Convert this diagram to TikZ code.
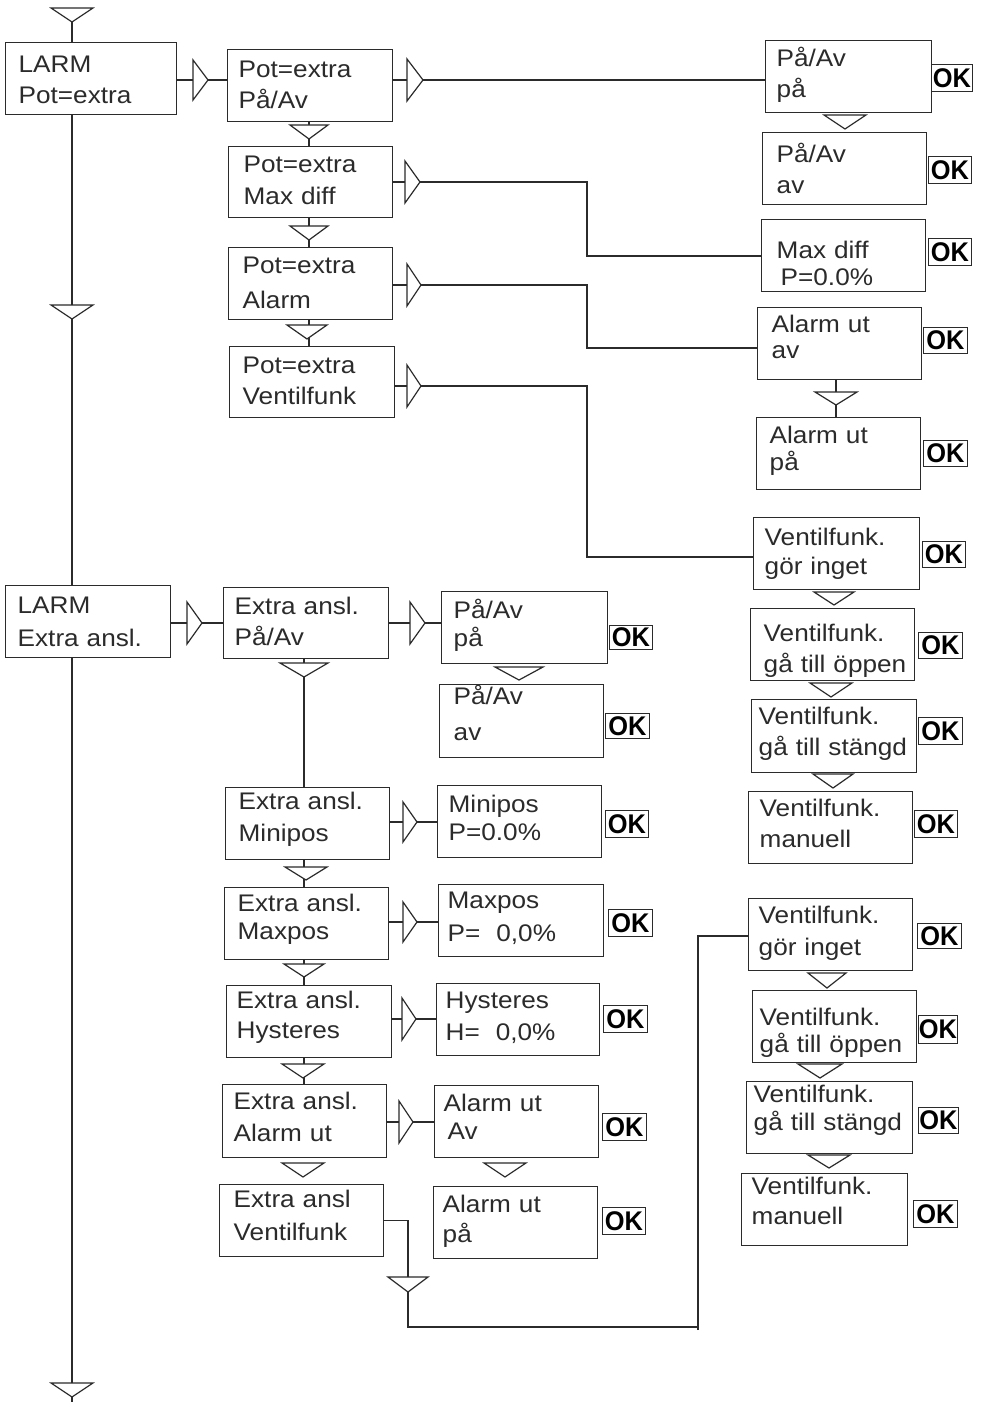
\documentclass[tikz,border=0pt]{standalone}
\usepackage{fontspec}
\setmainfont{Liberation Sans}[FakeStretch=1.09]
\newfontfamily\okfont{Liberation Sans}[FakeStretch=0.94]
\usetikzlibrary{calc}
\definecolor{ink}{HTML}{2B2B2B}
\tikzset{
  lcd/.style={draw=ink, line width=1.4pt, rectangle, anchor=north west, inner ysep=0pt,
    align=left, font={\fontsize{24}{31}\selectfont}, text=ink},
  okbox/.style={draw=ink, line width=1pt, rectangle, anchor=north west, inner sep=0pt,
    font={\okfont\bfseries\fontsize{27}{27}\selectfont}, text=black},
  wire/.style={draw=ink, line width=1.2pt},
  pics/dtri/.style n args={2}{code={\draw[wire,fill=white] (-#1,-#2) -- (#1,-#2) -- (0,0) -- cycle;}},
  pics/rtri/.style n args={2}{code={\draw[wire,fill=white] (-#1,-#2) -- (-#1,#2) -- (0,0) -- cycle;}},
}
% name, x,y (north west), width, height, inset, first baseline, line distance, line 1, line 2
\newcommand\lcdbox[9]{%
  \pgfmathsetmacro\lcdtw{#3-2*#5}%
  \node[lcd, minimum width=#3, minimum height=#4, text width=\lcdtw pt, inner xsep=#5] (#1) at (#2)
    {\rule{0pt}{#6pt}\rlap{#8}\\[\dimexpr#7pt-31pt\relax]\leavevmode\rule[-\dimexpr#4pt-#6pt-#7pt\relax]{0pt}{\dimexpr#4pt-#6pt-#7pt\relax}\rlap{#9}};}
\newcommand\okb[4]{\node[okbox, minimum width=#3, minimum height=#4] (#1) at (#2) {OK};}
\begin{document}
\begin{tikzpicture}[x=1pt, y=-1pt]
\fill[white] (0,0) rectangle (982,1402);
\useasboundingbox (0,0) rectangle (982,1402);

% ---------- boxes ----------
\lcdbox{A1}{5,42}{171}{72}{13}{30}{31}{LARM}{Pot=extra}
\lcdbox{B1}{227,49}{165}{72}{11}{28}{31}{Pot=extra}{På/Av}
\lcdbox{B2}{228,146}{164}{71}{15}{26}{32}{Pot=extra}{Max diff}
\lcdbox{B3}{228,247}{164}{72}{14}{26}{35}{Pot=extra}{Alarm}
\lcdbox{B4}{229,346}{165}{71}{13}{27}{31}{Pot=extra}{Ventilfunk}
\lcdbox{C1}{765,40}{166}{72}{11}{26}{31}{På/Av}{på}
\lcdbox{C2}{762,132}{164}{72}{14}{30}{31}{På/Av}{av}
\lcdbox{C3}{761,219}{164}{72}{15}{39}{27}{Max diff}{\,P=0.0\%}
\lcdbox{C4}{757,307}{164}{72}{14}{25}{26}{Alarm ut}{av}
\lcdbox{C5}{756,417}{164}{72}{13}{26}{27}{Alarm ut}{på}
\lcdbox{C6}{753,517}{166}{72}{11}{28}{29}{Ventilfunk.}{gör inget}
\lcdbox{C7}{750,608}{164}{72}{13}{33}{31}{Ventilfunk.}{gå till öppen}
\lcdbox{C8}{751,699}{165}{73}{7}{25}{31}{Ventilfunk.}{gå till stängd}
\lcdbox{C9}{748,791}{164}{72}{11}{25}{31}{Ventilfunk.}{manuell}
\lcdbox{D1}{748,898}{164}{72}{10}{25}{32}{Ventilfunk.}{gör inget}
\lcdbox{D2}{752,990}{164}{72}{7}{35}{27}{Ventilfunk.}{gå till öppen}
\lcdbox{D3}{746,1081}{166}{72}{7}{21}{28}{Ventilfunk.}{gå till stängd}
\lcdbox{D4}{741,1173}{166}{72}{10}{21}{30}{Ventilfunk.}{manuell}
\lcdbox{A2}{5,585}{165}{72}{12}{28}{33}{LARM}{Extra ansl.}
\lcdbox{B5}{223,587}{165}{71}{11}{27}{31}{Extra ansl.}{På/Av}
\lcdbox{C10}{441,591}{166}{72}{12}{27}{28}{På/Av}{på}
\lcdbox{C11}{439,684}{164}{73}{14}{20}{36}{På/Av}{av}
\lcdbox{B6}{225,787}{164}{72}{13}{22}{32}{Extra ansl.}{Minipos}
\lcdbox{C12}{437,785}{164}{72}{11}{27}{28}{Minipos}{P=0.0\%}
\lcdbox{B7}{224,887}{164}{72}{13}{24}{28}{Extra ansl.}{Maxpos}
\lcdbox{C13}{438,884}{165}{72}{9}{24}{33}{Maxpos}{P=\ \ 0,0\%}
\lcdbox{B8}{226,985}{165}{72}{10}{23}{30}{Extra ansl.}{Hysteres}
\lcdbox{C14}{436,983}{163}{72}{9}{25}{32}{Hysteres}{H=\ \ 0,0\%}
\lcdbox{B9}{222,1084}{164}{73}{11}{25}{32}{Extra ansl.}{Alarm ut}
\lcdbox{C15}{434,1085}{164}{72}{9}{26}{28}{Alarm ut}{\,Av}
\lcdbox{B10}{219,1184}{164}{72}{14}{23}{33}{Extra ansl}{Ventilfunk}
\lcdbox{C16}{433,1186}{164}{72}{9}{26}{30}{Alarm ut}{på}

% ---------- OK keys ----------
\okb{C1ok}{931,64}{41}{27}
\okb{C2ok}{928,156}{43}{27}
\okb{C3ok}{928,238}{43}{27}
\okb{C4ok}{923,327}{44}{26}
\okb{C5ok}{923,440}{44}{26}
\okb{C6ok}{922,541}{43}{26}
\okb{C7ok}{918,632}{44}{26}
\okb{C8ok}{918,717}{44}{27}
\okb{C9ok}{914,810}{43}{27}
\okb{D1ok}{917,923}{44}{25}
\okb{D2ok}{918,1015}{39}{28}
\okb{D3ok}{918,1107}{40}{26}
\okb{D4ok}{913,1200}{44}{27}
\okb{C10ok}{609,625}{43}{24}
\okb{C11ok}{605,713}{44}{25}
\okb{C12ok}{605,810}{43}{27}
\okb{C13ok}{608,909}{44}{27}
\okb{C14ok}{603,1005}{44}{27}
\okb{C15ok}{602,1113}{44}{27}
\okb{C16ok}{602,1207}{43}{27}

% ---------- helper coordinates ----------
\coordinate (mtop) at (72,22);
\coordinate (mend) at (72,1402);
\coordinate (h1) at (0,80);
\coordinate (h2) at (0,182);
\coordinate (h2b) at (0,256);
\coordinate (h3) at (0,285);
\coordinate (h3b) at (0,348);
\coordinate (h4) at (0,386);
\coordinate (h4b) at (0,557);
\coordinate (h5) at (0,623);
\coordinate (h6) at (0,822);
\coordinate (h7) at (0,922);
\coordinate (h8) at (0,1019);
\coordinate (h9) at (0,1122);
\coordinate (h10) at (0,1327);
\coordinate (h11) at (0,1330);
\coordinate (h12) at (0,936);
\coordinate (v1) at (309,0);
\coordinate (v2) at (304,0);
\coordinate (v3) at (836,0);
\coordinate (r1) at (587,0);
\coordinate (r2) at (408,0);
\coordinate (r3) at (698,0);

% ---------- connectors ----------
\draw[wire] (mtop) -- (mtop |- A1.north);
\draw[wire] (mtop |- A1.south) -- (mtop |- A2.north);
\draw[wire] (mtop |- A2.south) -- (mend);

\draw[wire] (A1.east |- h1) -- (B1.west |- h1);
\draw[wire] (B1.east |- h1) -- (C1.west |- h1);
\draw[wire] (v1 |- B1.south) -- (v1 |- B2.north);
\draw[wire] (v1 |- B2.south) -- (v1 |- B3.north);
\draw[wire] (v1 |- B3.south) -- (v1 |- B4.north);
\draw[wire] (B2.east |- h2) -- (r1 |- h2) -- (r1 |- h2b) -- (C3.west |- h2b);
\draw[wire] (B3.east |- h3) -- (r1 |- h3) -- (r1 |- h3b) -- (C4.west |- h3b);
\draw[wire] (B4.east |- h4) -- (r1 |- h4) -- (r1 |- h4b) -- (C6.west |- h4b);
\draw[wire] (v3 |- C4.south) -- (v3 |- C5.north);

\draw[wire] (A2.east |- h5) -- (B5.west |- h5);
\draw[wire] (B5.east |- h5) -- (C10.west |- h5);
\draw[wire] (v2 |- B5.south) -- (v2 |- B6.north);
\draw[wire] (v2 |- B6.south) -- (v2 |- B7.north);
\draw[wire] (v2 |- B7.south) -- (v2 |- B8.north);
\draw[wire] (v2 |- B8.south) -- (v2 |- B9.north);
\draw[wire] (B6.east |- h6) -- (C12.west |- h6);
\draw[wire] (B7.east |- h7) -- (C13.west |- h7);
\draw[wire] (B8.east |- h8) -- (C14.west |- h8);
\draw[wire] (B9.east |- h9) -- (C15.west |- h9);
\draw[wire] (B10.east) -- (r2 |- B10.east) -- (r2 |- h10) -- (r3 |- h10);
\draw[wire] (r3 |- h11) -- (r3 |- h12) -- (D1.west |- h12);

% ---------- step triangles ----------
\pic at (72,22) {dtri={21}{14}};
\pic at (72,319) {dtri={21}{14}};
\pic at (72,1397) {dtri={21}{14}};
\pic at (208,80) {rtri={15}{20}};
\pic at (423,80) {rtri={16}{21}};
\pic at (309,139) {dtri={19}{14}};
\pic at (309,240) {dtri={19}{14}};
\pic at (307,339) {dtri={20}{14}};
\pic at (420,182) {rtri={15}{21}};
\pic at (421,285) {rtri={14}{21}};
\pic at (421,386) {rtri={14}{21}};
\pic at (845,129) {dtri={21}{14}};
\pic at (836,405) {dtri={21}{13}};
\pic at (834,605) {dtri={20}{13}};
\pic at (831,697) {dtri={21}{14}};
\pic at (833,788) {dtri={20}{14}};
\pic at (827,988) {dtri={19}{15}};
\pic at (820,1078) {dtri={22}{14}};
\pic at (829,1168) {dtri={21}{13}};
\pic at (202,623) {rtri={15}{21}};
\pic at (425,623) {rtri={15}{21}};
\pic at (519,680) {dtri={24}{13}};
\pic at (304,677) {dtri={24}{14}};
\pic at (306,880) {dtri={21}{13}};
\pic at (304,977) {dtri={20}{13}};
\pic at (303,1078) {dtri={21}{14}};
\pic at (303,1177) {dtri={21}{14}};
\pic at (505,1177) {dtri={21}{14}};
\pic at (417,822) {rtri={14}{20}};
\pic at (417,922) {rtri={14}{20}};
\pic at (416,1019) {rtri={14}{21}};
\pic at (413,1122) {rtri={14}{21}};
\pic at (408,1292) {dtri={20}{15}};
\end{tikzpicture}
\end{document}
